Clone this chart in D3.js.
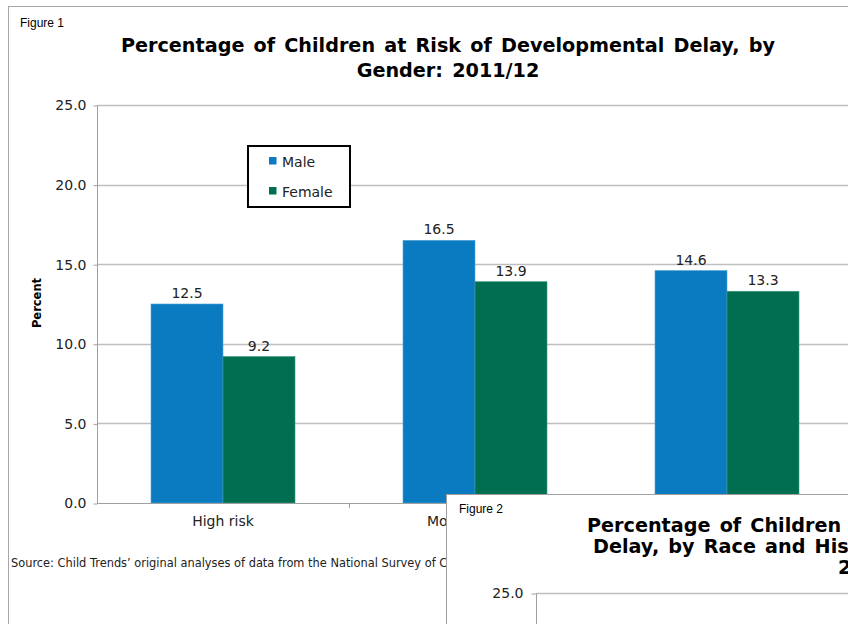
<!DOCTYPE html>
<html><head><meta charset="utf-8">
<script src="https://cdn.jsdelivr.net/npm/d3@7"></script>
<style>
html,body{margin:0;padding:0;background:#fff;}
svg{display:block;}
</style></head>
<body>
<svg id="c" width="848" height="624"></svg>
<script>
// ---- data ----
const categories = ["High risk", "Moderate risk", "Low risk"];
const seriesNames = ["Male", "Female"];
const maleValues = [12.5, 16.5, 14.6];
const femaleValues = [9.2, 13.9, 13.3];
const yTicks = [0, 5, 10, 15, 20, 25];
const fig2Ticks = [25];
const title1 = ["Percentage of Children at Risk of Developmental Delay, by", "Gender: 2011/12"];
const title2 = ["Percentage of Children at Risk of Developmental", "Delay, by Race and Hispanic Origin", "2011/12"];
const sourceText = "Source: Child Trends\u2019 original analyses of data from the National Survey of Children\u2019s Health.";

const colors = {Male: "#0A7BC1", Female: "#006F51"};
const svg = d3.select("#c");
const FONT = "'DejaVu Sans', Verdana, sans-serif";

// ---- Figure 1 frame ----
svg.append("rect").attr("x", 8.5).attr("y", 6.5).attr("width", 900).attr("height", 700)
  .attr("fill", "#fff").attr("stroke", "#A6A6A6").attr("stroke-width", 1);

svg.append("text").attr("x", 20).attr("y", 27).text("Figure 1")
  .attr("font-family", "'Liberation Sans', Arial, sans-serif").attr("font-size", 12).attr("fill", "#000");

const t1 = svg.append("text").attr("font-family", FONT).attr("font-weight", "bold")
  .attr("font-size", 19.2).attr("text-anchor", "middle").attr("fill", "#000").attr("word-spacing", 2.5);
title1.forEach((s, i) => t1.append("tspan").attr("x", 448).attr("y", 52 + i * 24.5).text(s));

// scales
const x = d3.scaleBand().domain(categories).range([97, 97 + 3 * 252]).paddingInner(0.4286).paddingOuter(0.2143);
const xs = d3.scaleBand().domain(seriesNames).range([0, x.bandwidth()]);
const y = d3.scaleLinear().domain([0, 25]).range([503, 105]);

// gridlines
svg.append("g").selectAll("line").data(yTicks.filter(d => d > 0)).join("line")
  .attr("x1", 97).attr("x2", 900).attr("y1", d => Math.round(y(d)) + 0.5).attr("y2", d => Math.round(y(d)) + 0.5)
  .attr("stroke", "#BFBFBF").attr("stroke-width", 1.3);

// y axis
const yAxis = d3.axisLeft(y).tickValues(yTicks).tickFormat(d3.format(".1f")).tickSize(4).tickPadding(7);
const ya = svg.append("g").attr("transform", "translate(97.5,0.5)").call(yAxis);
ya.select(".domain").attr("stroke", "#A0A0A0").attr("d", `M0,${y(25)}V${y(0)}`);
ya.selectAll(".tick line").attr("stroke", "#A0A0A0");
ya.selectAll(".tick text").attr("font-family", FONT).attr("font-size", 14).attr("fill", "#222");

// bars
const data = categories.map((c, i) => ({c, vals: [{s: "Male", v: maleValues[i]}, {s: "Female", v: femaleValues[i]}]}));
const g = svg.append("g");
const groups = g.selectAll("g").data(data).join("g").attr("transform", d => `translate(${x(d.c)},0)`);
groups.selectAll("rect").data(d => d.vals).join("rect")
  .attr("x", d => xs(d.s)).attr("width", xs.bandwidth())
  .attr("y", d => y(d.v)).attr("height", d => y(0) - y(d.v))
  .attr("fill", d => colors[d.s]).attr("stroke", d => d.s === "Male" ? "#4FA3D6" : "#3F9A80").attr("stroke-width", 0.6);
groups.selectAll("text").data(d => d.vals).join("text")
  .attr("x", d => xs(d.s) + xs.bandwidth() / 2).attr("y", d => y(d.v) - 6)
  .attr("text-anchor", "middle").attr("font-family", FONT).attr("font-size", 14).attr("fill", "#222")
  .text(d => d3.format(".1f")(d.v));

// x axis
svg.append("line").attr("x1", 97).attr("x2", 900).attr("y1", y(0) + 0.5).attr("y2", y(0) + 0.5).attr("stroke", "#A0A0A0");
const bounds = [0, 1, 2, 3].map(i => x.range()[0] + i * x.step());
svg.append("g").selectAll("line").data(bounds.slice(1)).join("line")
  .attr("x1", d => d + 0.5).attr("x2", d => d + 0.5).attr("y1", y(0)).attr("y2", y(0) + 5).attr("stroke", "#A0A0A0");
svg.append("g").selectAll("text").data(categories).join("text")
  .attr("x", d => x(d) + x.bandwidth() / 2).attr("y", 526).attr("text-anchor", "middle")
  .attr("font-family", FONT).attr("font-size", 14).attr("fill", "#222").text(d => d);

// y title
svg.append("text").attr("transform", "translate(41,303) rotate(-90)").attr("text-anchor", "middle")
  .attr("font-family", FONT).attr("font-weight", "bold").attr("font-size", 11.5).text("Percent");

// legend
const lg = svg.append("g");
lg.append("rect").attr("x", 248).attr("y", 146).attr("width", 102).attr("height", 61)
  .attr("fill", "#fff").attr("stroke", "#000").attr("stroke-width", 2);
seriesNames.forEach((s, i) => {
  lg.append("rect").attr("x", 269).attr("y", 157 + i * 30).attr("width", 7.5).attr("height", 7.5).attr("fill", colors[s]);
  lg.append("text").attr("x", 282).attr("y", 167 + i * 30).attr("font-family", FONT).attr("font-size", 14).attr("fill", "#222").text(s);
});

// source
svg.append("text").attr("x", 11).attr("y", 567).attr("font-family", FONT).attr("font-size", 11.4).attr("fill", "#222")
  .text(sourceText);

// ---- Figure 2 (overlapping) ----
svg.append("rect").attr("x", 446.5).attr("y", 494.5).attr("width", 500).attr("height", 300)
  .attr("fill", "#fff").attr("stroke", "#A0A0A0").attr("stroke-width", 1);
svg.append("text").attr("x", 459).attr("y", 513).text("Figure 2")
  .attr("font-family", "'Liberation Sans', Arial, sans-serif").attr("font-size", 12).attr("fill", "#000");
const t2 = svg.append("text").attr("font-family", FONT).attr("font-weight", "bold")
  .attr("font-size", 19.2).attr("fill", "#000").attr("word-spacing", 2.5);
const t2x = [587, 593, 838];
title2.forEach((s, i) => t2.append("tspan").attr("x", t2x[i]).attr("y", 532 + i * 21).text(s));

const y2 = d3.scaleLinear().domain([0, 25]).range([990, 593]);
svg.append("g").selectAll("line").data(fig2Ticks).join("line")
  .attr("x1", 536).attr("x2", 900).attr("y1", d => y2(d) + 0.5).attr("y2", d => y2(d) + 0.5)
  .attr("stroke", "#BFBFBF").attr("stroke-width", 1.3);
const ya2 = svg.append("g").attr("transform", "translate(536.5,0.5)")
  .call(d3.axisLeft(y2).tickValues(fig2Ticks).tickFormat(d3.format(".1f")).tickSize(5).tickPadding(8));
ya2.select(".domain").attr("stroke", "#A0A0A0").attr("d", `M0,${y2(25)}V${y2(0)}`);
ya2.selectAll(".tick line").attr("stroke", "#A0A0A0");
ya2.selectAll(".tick text").attr("font-family", FONT).attr("font-size", 14).attr("fill", "#222");
</script>
</body></html>
